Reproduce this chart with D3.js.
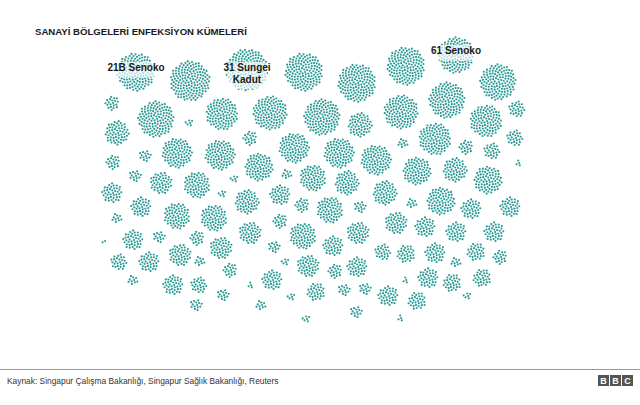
<!DOCTYPE html>
<html>
<head>
<meta charset="utf-8">
<script src="https://cdn.jsdelivr.net/npm/d3@7"></script>
<style>
  body { margin: 0; background: #fff; }
  text { font-family: Arial, "Liberation Sans", Helvetica, sans-serif; }
</style>
</head>
<body>
<div id="chart"></div>
<script>
// cluster centres (picture units) and case counts
const clusterX = [136,190,247,304,357,406,456,498,
  112,156,189,222,270,322,360,401,447,486,517,
  117,250,294,339,376,403,435,466,492,515,518,113,145,177,220,259,417,455,488,
  135,161,197,234,112,222,280,247,141,177,214,280,287,313,347,385,
  302,330,360,250,303,333,358,274,117,104,133,159,197,221,412,441,471,510,396,425,456,494,
  406,435,456,476,500,383,405,428,452,482,467,388,417,400,285,308,335,357,250,272,291,316,344,365,261,356,306,
  119,149,180,200,230,133,173,199,223,196];
const clusterY = [72,81,70,72,83,66,55,82,
  103,119,123,114,113,117,125,112,100,121,109,
  133,138,148,153,160,143,139,147,151,138,163,162,156,153,155,167,171,170,180,
  176,183,185,179,193,194,195,202,207,216,218,221,174,178,183,193,
  205,210,207,233,236,246,233,247,218,241,240,237,238,248,203,201,209,207,223,227,232,232,
  254,253,262,252,257,252,280,278,283,278,296,296,301,318,262,266,271,267,285,280,297,292,290,289,305,312,319,
  262,262,255,261,270,280,285,285,295,305];
const cases = [144,160,176,144,144,144,130,130,
  20,130,6,102,116,130,58,116,130,102,26,
  58,20,90,90,90,10,102,20,26,26,4,20,14,90,90,78,78,58,78,
  14,48,68,6,40,6,40,58,40,68,68,20,10,68,58,58,
  20,68,14,48,68,40,48,14,10,2,40,14,20,48,10,78,40,40,48,40,40,40,
  32,40,10,32,20,26,4,40,32,32,6,40,32,4,6,48,20,40,4,40,6,32,14,14,10,14,6,
  26,40,48,10,20,10,40,26,14,14];

const labelIndex = [0, 2, 6];
const labelLines = [["21B Senoko"], ["31 Sungei", "Kadut"], ["61 Senoko"]];

const title = "SANAYİ BÖLGELERİ ENFEKSİYON KÜMELERİ";
const source = "Kaynak: Singapur Çalışma Bakanlığı, Singapur Sağlık Bakanlığı, Reuters";

const width = 640, height = 405;
const teal = "#2a9a95";

const svg = d3.select("#chart").append("svg")
  .attr("width", width)
  .attr("height", height);

// picture units -> pixels
const xPos = d3.scaleLinear().domain([0, 640]).range([0, width]);
const yPos = d3.scaleLinear().domain([0, 405]).range([0, height]);
// dot index -> distance from cluster centre (sunflower packing)
const spiral = d3.scaleSqrt().domain([0, 1]).range([0, 1.58]);
const golden = Math.PI * (3 - Math.sqrt(5));

svg.append("text")
  .attr("x", 35).attr("y", 35)
  .attr("font-size", 9.6).attr("font-weight", "bold")
  .attr("fill", "#1a1a1a")
  .text(title);

const clusters = svg.append("g").attr("id", "clusters")
  .selectAll("g")
  .data(cases.map((n, i) => ({ n: n, x: clusterX[i], y: clusterY[i] })))
  .enter().append("g")
  .attr("transform", d => `translate(${xPos(d.x)},${yPos(d.y)})`);

clusters.selectAll("circle")
  .data(d => d3.range(d.n))
  .enter().append("circle")
  .attr("r", 1.08)
  .attr("fill", teal)
  .attr("cx", i => spiral(i + 0.5) * Math.cos(i * golden))
  .attr("cy", i => spiral(i + 0.5) * Math.sin(i * golden));

// labels with a soft white band behind them
const lab = svg.append("g").attr("id", "labels")
  .selectAll("g")
  .data(labelIndex.map((k, j) => ({ x: clusterX[k], y: clusterY[k], lines: labelLines[j] })))
  .enter().append("g")
  .attr("transform", d => `translate(${xPos(d.x)},${yPos(d.y)})`);

lab.each(function(d) {
  const g = d3.select(this);
  const h = 11.5 * d.lines.length;
  const top = d.lines.length > 1 ? -8 : -10;
  g.append("rect")
    .attr("x", -20).attr("y", top)
    .attr("width", 40).attr("height", h + 4)
    .attr("rx", 4)
    .attr("fill", "#fff").attr("opacity", 0.65);
  d.lines.forEach((t, k) => {
    g.append("text")
      .attr("text-anchor", "middle")
      .attr("y", top + 9 + k * 11.5)
      .attr("font-size", 10).attr("font-weight", "bold")
      .attr("fill", "#1a1a1a")
      .text(t);
  });
});

// footer
svg.append("line")
  .attr("x1", 0).attr("x2", width)
  .attr("y1", 369.5).attr("y2", 369.5)
  .attr("stroke", "#999").attr("stroke-width", 1);

svg.append("text")
  .attr("x", 7).attr("y", 384)
  .attr("font-size", 8.4)
  .attr("fill", "#333")
  .text(source);

const logo = svg.append("g").attr("transform", "translate(598,375)");
["B", "B", "C"].forEach((c, i) => {
  logo.append("rect")
    .attr("x", i * 12).attr("y", 0)
    .attr("width", 11).attr("height", 11)
    .attr("fill", "#555");
  logo.append("text")
    .attr("x", i * 12 + 5.5).attr("y", 9)
    .attr("text-anchor", "middle")
    .attr("font-size", 9).attr("font-weight", "bold")
    .attr("fill", "#fff")
    .text(c);
});
</script>
</body>
</html>
